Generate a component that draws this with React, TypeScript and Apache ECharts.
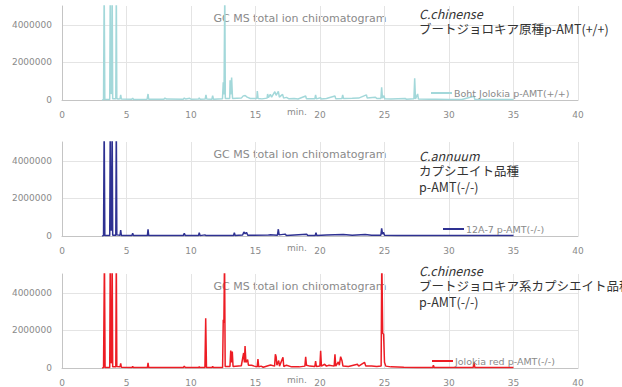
import React, { useEffect, useRef } from "react";
import * as echarts from "echarts";

const xTicks = [0, 5, 10, 15, 20, 25, 30, 35, 40];
const yTicks = [0, 2000000, 4000000];

const chartTitle = "GC MS total ion chiromatogram";
const seriesNames = ["Boht Jolokia p-AMT(+/+)", "12A-7 p-AMT(-/-)", "Jolokia red p-AMT(-/-)"];
const seriesColors = ["#a3d8da", "#2e3192", "#ed1c24"];

const boht: [number, number][] = [
  [3.1, 0], [3.22, 20000], [3.27, 6000000], [3.32, 20000], [3.7, 30000], [3.74, 6000000],
  [3.78, 360000], [3.85, 350000], [3.89, 6000000], [3.93, 60000], [4.17, 60000], [4.21, 6000000],
  [4.25, 80000], [4.35, 50000], [4.5, 60000], [4.55, 270000],
  [4.6, 50000], [5.4, 40000], [5.48, 90000], [5.55, 30000], [6.6, 40000], [6.67, 320000],
  [6.72, 40000], [7.9, 40000], [7.98, 100000], [8.1, 50000], [9.4, 40000], [9.48, 100000],
  [9.6, 50000], [9.9, 90000], [10.0, 40000], [10.6, 50000], [10.64, 120000], [10.7, 40000],
  [11.1, 50000], [11.16, 270000], [11.22, 50000], [11.62, 40000], [11.68, 230000], [11.74, 40000],
  [12.44, 60000], [12.5, 940000], [12.56, 300000], [12.62, 6000000], [12.66, 80000],
  [13.0, 80000], [13.03, 1050000], [13.08, 300000], [13.15, 1190000], [13.22, 80000], [13.9, 100000],
  [14.05, 220000], [14.2, 240000], [14.35, 150000], [14.6, 80000], [15.1, 80000], [15.14, 480000],
  [15.2, 80000], [15.5, 60000], [15.9, 100000], [15.94, 320000], [16.0, 120000], [16.15, 300000],
  [16.25, 150000], [16.5, 440000], [16.6, 250000], [16.77, 460000], [16.85, 150000], [17.1, 300000],
  [17.18, 100000], [17.4, 140000], [17.6, 60000], [18.0, 80000], [18.3, 50000], [18.89, 210000],
  [18.95, 60000], [19.6, 60000], [19.66, 270000], [19.72, 60000], [20.05, 120000], [20.1, 50000],
  [20.5, 80000], [21.16, 210000], [21.22, 60000], [21.7, 80000], [21.76, 270000], [21.82, 80000],
  [22.5, 90000], [23.0, 100000], [23.6, 270000], [23.66, 100000], [24.3, 150000], [24.4, 80000],
  [24.72, 80000], [24.78, 680000], [24.84, 100000], [24.96, 230000], [25.02, 60000], [25.5, 50000],
  [26.6, 80000], [26.7, 40000], [27.28, 60000], [27.34, 1160000], [27.4, 60000], [27.57, 320000],
  [27.63, 50000], [28.5, 40000], [29.0, 40000], [30.0, 30000], [31.0, 30000], [31.94, 200000],
  [32.0, 30000], [33.0, 25000], [35.0, 20000],
];

const a12: [number, number][] = [
  [3.1, 0], [3.22, 20000], [3.27, 6000000], [3.32, 20000], [3.7, 30000], [3.74, 6000000],
  [3.78, 320000], [3.85, 320000], [3.89, 6000000], [3.93, 40000], [4.17, 40000], [4.21, 6000000],
  [4.25, 60000], [4.5, 40000], [4.55, 320000], [4.6, 30000],
  [5.42, 30000], [5.48, 140000], [5.54, 20000], [6.62, 20000], [6.67, 360000], [6.72, 20000],
  [9.4, 20000], [9.48, 140000], [9.56, 20000], [10.58, 20000], [10.64, 180000], [10.7, 20000],
  [11.1, 60000], [11.15, 20000], [13.3, 30000], [13.36, 180000], [13.42, 30000], [14.0, 50000],
  [14.1, 210000], [14.2, 120000], [14.3, 190000], [14.4, 40000], [16.0, 50000], [16.1, 60000],
  [16.7, 40000], [16.77, 360000], [16.83, 60000], [17.3, 100000], [17.4, 30000], [18.97, 90000],
  [19.05, 30000], [19.63, 30000], [19.69, 170000], [19.75, 30000], [20.5, 50000], [21.8, 80000],
  [22.5, 40000], [23.5, 80000], [24.0, 40000], [24.72, 40000], [24.78, 410000], [24.85, 100000],
  [24.92, 200000], [25.0, 40000], [26.0, 30000], [28.0, 20000], [30.0, 20000], [32.0, 20000],
  [35.0, 20000],
];

const jolokiaRed: [number, number][] = [
  [3.1, 0], [3.22, 20000], [3.29, 6000000], [3.34, 20000], [3.7, 30000], [3.74, 6000000],
  [3.78, 300000], [3.85, 280000], [3.89, 6000000], [3.93, 60000], [4.17, 60000], [4.21, 6000000],
  [4.25, 80000], [4.5, 60000], [4.55, 250000], [4.6, 40000],
  [5.42, 30000], [5.48, 80000], [5.54, 20000], [6.62, 20000], [6.67, 280000], [6.72, 20000],
  [9.4, 20000], [9.48, 100000], [9.56, 20000], [10.58, 20000], [10.64, 60000], [10.7, 20000],
  [11.08, 30000], [11.14, 2650000], [11.2, 30000], [11.62, 30000], [11.68, 80000], [11.74, 30000],
  [12.45, 30000], [12.5, 2560000], [12.55, 2400000], [12.6, 6000000], [12.65, 80000],
  [13.02, 80000], [13.08, 925000], [13.14, 300000], [13.2, 880000], [13.26, 80000], [13.9, 120000],
  [14.08, 800000], [14.14, 300000], [14.19, 1170000], [14.26, 300000], [14.39, 450000], [14.45, 150000],
  [14.7, 150000], [14.9, 100000], [15.13, 60000], [15.19, 480000], [15.25, 60000], [15.43, 100000],
  [15.6, 40000], [15.97, 120000], [16.17, 160000], [16.48, 100000], [16.54, 730000], [16.6, 600000],
  [16.66, 150000], [16.8, 400000], [16.86, 100000], [17.13, 570000], [17.19, 80000], [17.4, 150000],
  [17.8, 60000], [18.4, 60000], [18.83, 100000], [18.89, 600000], [18.95, 150000], [19.2, 100000],
  [19.6, 80000], [19.66, 370000], [19.72, 80000], [19.99, 100000], [20.05, 920000], [20.11, 100000],
  [20.36, 200000], [20.5, 100000], [20.7, 150000], [21.1, 100000], [21.16, 730000], [21.22, 100000],
  [21.42, 320000], [21.5, 150000], [21.6, 600000], [21.7, 400000], [21.78, 100000], [22.2, 80000],
  [22.9, 200000], [23.0, 100000], [23.45, 300000], [23.55, 100000], [24.0, 100000], [24.4, 80000],
  [24.74, 100000], [24.79, 6000000], [24.86, 1850000], [24.93, 1800000], [25.0, 300000], [25.1, 100000],
  [25.5, 60000], [26.5, 40000], [27.5, 30000], [28.74, 30000], [28.79, 150000], [28.85, 30000],
  [30.0, 30000], [31.88, 30000], [31.94, 320000], [32.0, 30000], [33.0, 20000], [35.0, 20000],
];

const annotations: string[][] = [
  ["C.chinense", "ブートジョロキア原種p-AMT(+/+)"],
  ["C.annuum", "カプシエイト品種", "p-AMT(-/-)"],
  ["C.chinense", "ブートジョロキア系カプシエイト品種", "p-AMT(-/-)"],
];

const allData = [boht, a12, jolokiaRed];

export default function App() {
  const ref = useRef<HTMLDivElement>(null);
  useEffect(() => {
    if (!ref.current) return;
    const chart = echarts.init(ref.current, undefined, { renderer: "svg" });
    const font = "DejaVu Sans, Verdana, sans-serif";
    const jpFont = "Noto Sans CJK JP, sans-serif";
    const gridTops = [6, 142, 274];
    const plotH = 94;
    const legendLeft = [431, 443, 432];
    const annTop = [13, 155, 270];
    const grids = gridTops.map((t) => ({ left: 62, top: t, width: 516, height: plotH }));
    const xAxes = gridTops.map((_, i) => ({
      type: "value",
      gridIndex: i,
      min: xTicks[0],
      max: xTicks[xTicks.length - 1],
      interval: xTicks[1] - xTicks[0],
      axisLine: { show: true, lineStyle: { color: "#c4c4c4", width: 1 } },
      axisTick: { show: false },
      axisLabel: { color: "#8a8a8a", fontSize: 9, fontFamily: font, margin: 10 },
      splitLine: { show: true, lineStyle: { color: "#e4e4e4", width: 1 } },
    }));
    const yAxes = gridTops.map((_, i) => ({
      type: "value",
      gridIndex: i,
      min: yTicks[0],
      max: 5000000,
      interval: yTicks[1] - yTicks[0],
      axisLine: { show: true, lineStyle: { color: "#c4c4c4", width: 1 } },
      axisTick: { show: false },
      axisLabel: {
        color: "#8a8a8a",
        fontSize: 9,
        fontFamily: font,
        margin: 10,
        showMaxLabel: false,
        formatter: (v: number) => String(v),
      },
      splitLine: { show: true, showMaxLine: false, lineStyle: { color: "#e4e4e4", width: 1 } },
    }));
    const series = allData.map((d, i) => ({
      type: "line",
      name: seriesNames[i],
      xAxisIndex: i,
      yAxisIndex: i,
      data: d,
      symbol: "none",
      clip: true,
      lineStyle: { color: seriesColors[i], width: 1.5 },
      itemStyle: { color: seriesColors[i] },
      z: 3,
    }));
    const legends = gridTops.map((t, i) => ({
      data: [seriesNames[i]],
      left: legendLeft[i],
      top: t + plotH - 12,
      icon: "rect",
      itemWidth: 21,
      itemHeight: 2,
      padding: 0,
      textStyle: { color: "#8a8a8a", fontSize: 9.5, fontFamily: font, padding: [0, 0, 0, -3] },
    }));
    const graphics: any[] = [];
    gridTops.forEach((t, i) => {
      graphics.push({
        type: "text",
        x: 300,
        y: t + 12,
        style: { text: chartTitle, fill: "#8a8a8a", font: `11px ${font}`, textAlign: "center", textVerticalAlign: "middle" },
      });
      graphics.push({
        type: "text",
        x: 297,
        y: t + plotH + 12,
        style: { text: "min.", fill: "#8a8a8a", font: `9px ${font}`, textAlign: "center", textVerticalAlign: "middle" },
      });
      annotations[i].forEach((line, j) => {
        graphics.push({
          type: "text",
          x: 419,
          y: annTop[i] + j * 15.6,
          z: 10,
          style: {
            text: line,
            fill: "#333333",
            font: `${j === 0 ? "italic " : ""}12.5px ${jpFont}`,
            textAlign: "left",
            textVerticalAlign: "middle",
          },
        });
      });
    });
    chart.setOption({
      animation: false,
      backgroundColor: "#ffffff",
      grid: grids,
      xAxis: xAxes,
      yAxis: yAxes,
      series,
      legend: legends,
      graphic: graphics,
    });
    return () => chart.dispose();
  }, []);
  return <div ref={ref} style={{ position: "fixed", left: 0, top: 0, width: 622, height: 387 }} />;
}
